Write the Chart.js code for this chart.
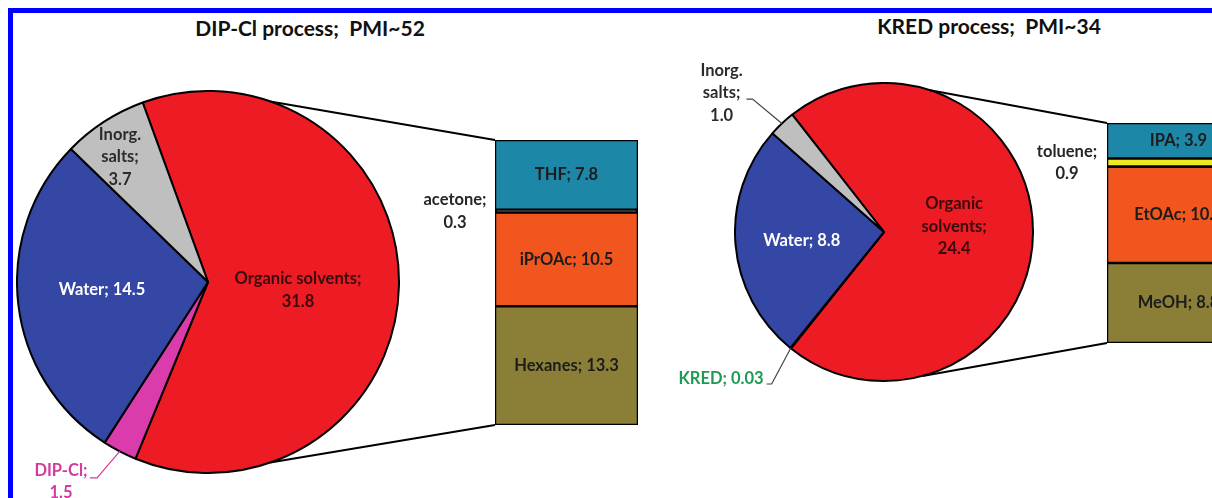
<!DOCTYPE html>
<html>
<head>
<meta charset="utf-8">
<script src="https://cdn.jsdelivr.net/npm/chart.js@4.4.1/dist/chart.umd.min.js"></script>
<style>
  html, body { margin: 0; padding: 0; background: #fff; overflow: hidden; }
  #stage { position: relative; width: 1212px; height: 498px; overflow: hidden; background: #fff; }
  #stage canvas { position: absolute; }
  .frame { position: absolute; background: #0000ff; }
  .title { position: absolute; font: bold 21px Lato, sans-serif; color: #111; transform: translate(-50%, -50%); white-space: nowrap; }
</style>
</head>
<body>
<div id="stage">
  <div class="frame" style="left:8px;top:8px;width:1204px;height:5px"></div>
  <div class="frame" style="left:8px;top:8px;width:5px;height:490px"></div>
  <div class="title" style="left:310px;top:27px">DIP-Cl process;&nbsp; PMI~52</div>
  <div class="title" style="left:989px;top:25px">KRED process;&nbsp; PMI~34</div>
  <canvas id="dipPie" width="384" height="384" style="left:16px;top:90px"></canvas>
  <canvas id="dipBar" width="143" height="285" style="left:495px;top:140px"></canvas>
  <canvas id="kredPie" width="300" height="300" style="left:734px;top:82px"></canvas>
  <canvas id="kredBar" width="143" height="220" style="left:1107px;top:123px"></canvas>
  <canvas id="overlay" width="1212" height="498" style="left:0;top:0"></canvas>
</div>
<script>
// DIP-Cl process, pie slices clockwise from the split line
const dipLabels = ['Organic solvents', 'DIP-Cl', 'Water', 'Inorg. salts'];
const dipValues = [31.8, 1.5, 14.5, 3.7];
// organic solvents breakdown, top to bottom
const dipSolventLabels = ['THF', 'acetone', 'iPrOAc', 'Hexanes'];
const dipSolventValues = [7.8, 0.3, 10.5, 13.3];

// KRED process
const kredLabels = ['Organic solvents', 'KRED', 'Water', 'Inorg. salts'];
const kredValues = [24.4, 0.03, 8.8, 1.0];
const kredSolventLabels = ['IPA', 'toluene', 'EtOAc', 'MeOH'];
const kredSolventValues = [3.9, 0.9, 10.6, 8.8];

const pieColors = ['#ed1c24', '#da3cab', '#3547a5', '#bfbfbf'];
const kredPieColors = ['#ed1c24', '#1a9a50', '#3547a5', '#bfbfbf'];
// the acetone sliver is so thin it prints as a black band
const dipSolventColors = ['#1d87a8', '#111111', '#f2561f', '#8b7f37'];
const kredSolventColors = ['#1d87a8', '#eeea22', '#f2561f', '#8b7f37'];

const FONT = 'bold 16.5px Lato, sans-serif';
const LINE_H = 22.5;

// label placement, in units of the pie radius from its centre
const dipPieText = [
    { dx: 0.471, dy: 0.042, lines: [2, 1], color: '#3a0a0c' },
    { dx: -0.77, dy: 1.045, lines: [1, 1], color: '#d23a9f', leader: [[-0.581, 1.026], [-0.618, 1.026]] },
    { dx: -0.555, dy: 0.042, lines: [2], color: '#ffffff' },
    { dx: -0.461, dy: -0.654, lines: [1, 1, 1], color: '#2b2b2b' }
];
const kredPieText = [
    { dx: 0.471, dy: -0.037, lines: [1, 1, 1], color: '#3a0a0c' },
    { dx: -0.808, dy: 0.987, lines: [2], color: '#1f9a55', align: 'right', leader: [[-0.754, 1.02], [-0.788, 1.02]], leaderColor: '#444' },
    { dx: -0.552, dy: 0.057, lines: [2], color: '#ffffff' },
    { dx: -1.09, dy: -0.933, lines: [1, 1, 1], color: '#2b2b2b', leader: [[-0.882, -0.892], [-0.923, -0.892]], leaderColor: '#444' }
];

const fmt = (v) => (v < 0.1 ? v.toFixed(2) : v.toFixed(1));

function splitLines(text, counts) {
    const words = text.split(' ');
    const out = [];
    let k = 0;
    counts.forEach((n) => {
        out.push(words.slice(k, k + n).join(' '));
        k += n;
    });
    return out;
}

function makePie(id, labels, values, colors, rotation) {
    return new Chart(document.getElementById(id), {
        type: 'pie',
        data: {
            labels,
            datasets: [{ data: values, backgroundColor: colors, borderColor: '#000', borderWidth: 2 }]
        },
        options: {
            responsive: false,
            animation: false,
            events: [],
            rotation,
            plugins: { legend: { display: false }, tooltip: { enabled: false } }
        }
    });
}

function makeBar(id, labels, values, colors) {
    const total = values.reduce((a, b) => a + b, 0);
    const order = labels.map((l, i) => i).reverse(); // stack grows upward, bottom segment first
    return new Chart(document.getElementById(id), {
        type: 'bar',
        data: {
            labels: [''],
            datasets: order.map((i) => ({
                label: labels[i],
                data: [values[i]],
                backgroundColor: colors[i],
                borderColor: '#000',
                borderWidth: 1.6,
                borderSkipped: false,
                barPercentage: 1,
                categoryPercentage: 1
            }))
        },
        options: {
            responsive: false,
            animation: false,
            events: [],
            layout: { padding: 0 },
            scales: {
                x: { stacked: true, display: false },
                y: { stacked: true, display: false, min: 0, max: total }
            },
            plugins: { legend: { display: false }, tooltip: { enabled: false } }
        }
    });
}

const dipPie = makePie('dipPie', dipLabels, dipValues, pieColors, -20);
const dipBar = makeBar('dipBar', dipSolventLabels, dipSolventValues, dipSolventColors);
const kredPie = makePie('kredPie', kredLabels, kredValues, kredPieColors, -38);
const kredBar = makeBar('kredBar', kredSolventLabels, kredSolventValues, kredSolventColors);

function drawLines(ctx, lines, x, y, align, color) {
    ctx.fillStyle = color;
    ctx.textAlign = align || 'center';
    ctx.textBaseline = 'middle';
    const y0 = y - ((lines.length - 1) * LINE_H) / 2;
    lines.forEach((t, i) => ctx.fillText(t, x, y0 + i * LINE_H));
}

function pieGeom(chart) {
    const arc = chart.getDatasetMeta(0).data[0];
    const c = chart.canvas;
    return { cx: c.offsetLeft + arc.x, cy: c.offsetTop + arc.y, r: arc.outerRadius };
}

function barRects(chart) {
    const c = chart.canvas;
    // dataset order is bottom-up, give rects top-down
    return chart.data.datasets.map((ds, i) => {
        const el = chart.getDatasetMeta(i).data[0];
        return {
            left: c.offsetLeft + el.x - el.width / 2,
            right: c.offsetLeft + el.x + el.width / 2,
            top: c.offsetTop + Math.min(el.y, el.base),
            bottom: c.offsetTop + Math.max(el.y, el.base)
        };
    }).reverse();
}

function drawPanel(ctx, pie, bar, labels, values, texts, solventLabels, solventValues, topAngle, botAngle) {
    const g = pieGeom(pie);
    const rects = barRects(bar);
    const at = (deg) => {
        const a = (deg * Math.PI) / 180;
        return [g.cx + g.r * Math.sin(a), g.cy - g.r * Math.cos(a)];
    };

    // connectors pie -> bar
    ctx.strokeStyle = '#000';
    ctx.lineWidth = 2;
    const p1 = at(topAngle);
    const p2 = at(botAngle);
    ctx.beginPath();
    ctx.moveTo(p1[0], p1[1]);
    ctx.lineTo(rects[0].left, rects[0].top);
    ctx.moveTo(p2[0], p2[1]);
    ctx.lineTo(rects[rects.length - 1].left, rects[rects.length - 1].bottom);
    ctx.stroke();

    // pie labels
    const arcs = pie.getDatasetMeta(0).data;
    ctx.font = FONT;
    labels.forEach((lab, i) => {
        const t = texts[i];
        const lines = splitLines(`${lab}; ${fmt(values[i])}`, t.lines);
        if (t.leader) {
            const mid = (arcs[i].startAngle + arcs[i].endAngle) / 2;
            ctx.strokeStyle = t.leaderColor || t.color;
            ctx.lineWidth = 1.2;
            ctx.beginPath();
            ctx.moveTo(g.cx + g.r * Math.cos(mid), g.cy + g.r * Math.sin(mid));
            t.leader.forEach((p) => ctx.lineTo(g.cx + p[0] * g.r, g.cy + p[1] * g.r));
            ctx.stroke();
        }
        drawLines(ctx, lines, g.cx + t.dx * g.r, g.cy + t.dy * g.r, t.align, t.color);
    });

    // bar segment labels; thin segments get theirs beside the bar
    solventLabels.forEach((lab, i) => {
        const r = rects[i];
        const cy = (r.top + r.bottom) / 2;
        if (r.bottom - r.top > 20) {
            drawLines(ctx, [`${lab}; ${fmt(solventValues[i])}`], (r.left + r.right) / 2, cy, 'center', '#1c1c1c');
        } else {
            drawLines(ctx, [`${lab};`, fmt(solventValues[i])], r.left - 40, cy, 'center', '#262626');
        }
    });
}

const ctx = document.getElementById('overlay').getContext('2d');
drawPanel(ctx, dipPie, dipBar, dipLabels, dipValues, dipPieText, dipSolventLabels, dipSolventValues, 19, 161);
drawPanel(ctx, kredPie, kredBar, kredLabels, kredValues, kredPieText, kredSolventLabels, kredSolventValues, 18, 165);
</script>
</body>
</html>
